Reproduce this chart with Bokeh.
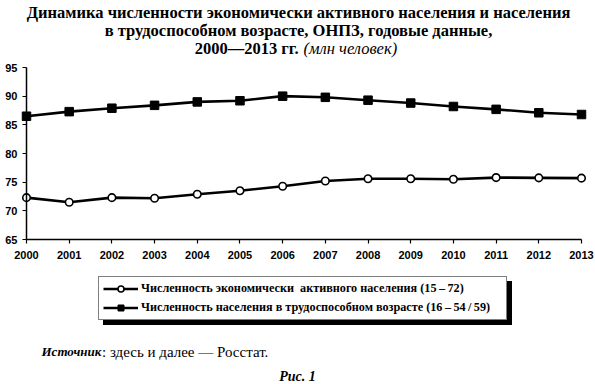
from bokeh.plotting import figure
from bokeh.models import Range1d, FixedTicker, Label, Legend, LegendItem
from bokeh.embed import file_html
from bokeh.resources import INLINE

# ---------------- data ----------------
years = list(range(2000, 2014))
active_pop = [72.3, 71.5, 72.3, 72.2, 72.9, 73.5, 74.3, 75.2, 75.6, 75.6, 75.5, 75.8, 75.75, 75.7]
working_age_pop = [86.5, 87.3, 87.9, 88.4, 89.0, 89.2, 90.0, 89.8, 89.3, 88.8, 88.2, 87.7, 87.1, 86.8]
y_ticks = [65, 70, 75, 80, 85, 90, 95]
series_names = [
    "Численность экономически  активного населения (15\u2009\u2013\u200972)",
    "Численность населения в трудоспособном возрасте (16\u2009\u2013\u200954\u2009/\u200959)",
]
title_line1 = "Динамика численности экономически активного населения и населения"
title_line2 = "в трудоспособном возрасте, ОНПЗ, годовые данные,"
title_line3_bold = "2000\u20142013 гг."
title_line3_italic = "(млн человек)"
source_bold = "Источник"
source_rest = ": здесь и далее  \u2014  Росстат."
fig_caption = "Рис. 1"

# ---------------- layout (pixels of the 595x384 canvas) ----------------
W, H = 595, 384
AX_LEFT, AX_RIGHT = 26, 581      # pixel x of first / last year
AX_TOP, AX_BOTTOM = 67, 239      # pixel y of top / bottom y tick
px_per_year = (AX_RIGHT - AX_LEFT) / (years[-1] - years[0])
px_per_unit = (AX_BOTTOM - AX_TOP) / (y_ticks[-1] - y_ticks[0])
X0 = years[0] - AX_LEFT / px_per_year
X1 = years[-1] + (W - AX_RIGHT) / px_per_year
Y1 = y_ticks[-1] + AX_TOP / px_per_unit
Y0 = y_ticks[0] - (H - AX_BOTTOM) / px_per_unit


def dx(px):
    return X0 + px / W * (X1 - X0)


def dy(py):
    return Y1 - py / H * (Y1 - Y0)


p = figure(width=W, height=H, output_backend="svg", toolbar_location=None,
           title=None,
           x_range=Range1d(X0, X1), y_range=Range1d(Y0, Y1),
           min_border_left=0, min_border_right=0, min_border_top=0,
           min_border_bottom=0)
p.outline_line_color = None
p.xgrid.visible = False
p.ygrid.visible = False
p.background_fill_color = "white"
p.border_fill_color = "white"

for ax in (p.xaxis[0], p.yaxis[0]):
    ax.axis_line_width = 1.5
    ax.axis_line_color = "black"
    ax.major_tick_line_color = "black"
    ax.major_tick_line_width = 1.2
    ax.major_tick_in = 0
    ax.major_tick_out = 4
    ax.minor_tick_line_color = None
    ax.major_label_text_font = "Liberation Sans"
    ax.major_label_text_font_style = "bold"
    ax.major_label_text_font_size = "11px"
    ax.major_label_text_color = "black"

p.xaxis[0].ticker = FixedTicker(ticks=years)
p.xaxis[0].bounds = (years[0], years[-1])
p.xaxis[0].fixed_location = y_ticks[0]
p.xaxis[0].major_label_standoff = 7
p.yaxis[0].ticker = FixedTicker(ticks=y_ticks)
p.yaxis[0].bounds = (y_ticks[0], y_ticks[-1])
p.yaxis[0].fixed_location = years[0]
p.yaxis[0].major_label_standoff = 5

l1 = p.line(years, active_pop, line_color="black", line_width=2.6)
s1 = p.scatter(years, active_pop, marker="circle", size=7.5, fill_color="white",
               line_color="black", line_width=1.6)
l2 = p.line(years, working_age_pop, line_color="black", line_width=2.6)
s2 = p.scatter(years, working_age_pop, marker="square", size=8.5, fill_color="black",
               line_color="black")

LEG_LEFT, LEG_BOTTOM, SHADOW = 98, 320, 5


def make_legend(left, bottom, shadow):
    if shadow:
        its = [LegendItem(label=" ", renderers=[l1, s1]),
               LegendItem(label=" ", renderers=[l2, s2])]
    else:
        its = [LegendItem(label=series_names[0], renderers=[l1, s1]),
               LegendItem(label=series_names[1], renderers=[l2, s2])]
    lg = Legend(items=its, location=(left, H - bottom), margin=0, padding=4,
                spacing=4, glyph_width=35, glyph_height=15, label_height=15,
                label_standoff=3, label_width=361,
                label_text_font="Liberation Serif", label_text_font_style="bold",
                label_text_font_size="12.2px", label_text_color="black",
                border_line_color="black", border_line_width=1.5,
                background_fill_alpha=1.0,
                background_fill_color="black" if shadow else "white")
    return lg


p.add_layout(make_legend(LEG_LEFT + SHADOW, LEG_BOTTOM + SHADOW, True), "center")
p.add_layout(make_legend(LEG_LEFT, LEG_BOTTOM, False), "center")


def add_text(txt, px, py, size, style, align="center", font="Liberation Serif"):
    p.add_layout(Label(x=dx(px), y=dy(py), text=txt, text_align=align,
                       text_baseline="middle", text_font=font,
                       text_font_size=size, text_font_style=style,
                       text_color="black"))


add_text(title_line1, 298, 12, "16.5px", "bold")
add_text(title_line2, 298, 30, "16.5px", "bold")
add_text(title_line3_bold, 298, 48, "16.5px", "bold", align="right")
add_text(title_line3_italic, 303, 48, "16.5px", "italic", align="left")
add_text(source_bold, 41, 351, "13px", "bold italic", align="left")
add_text(source_rest, 101.5, 351, "15px", "normal", align="left")
add_text(fig_caption, 297, 376, "14px", "bold italic")

open("out.html", "w").write(file_html(p, INLINE))
